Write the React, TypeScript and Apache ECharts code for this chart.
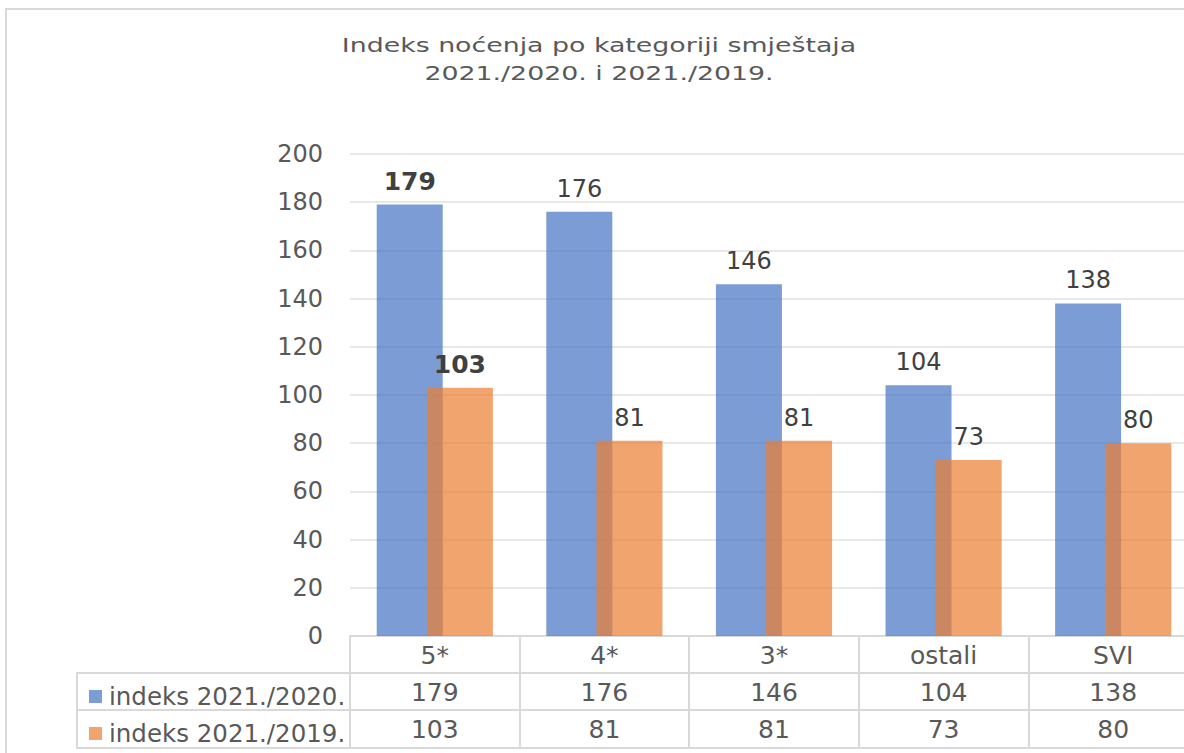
import React, { useEffect, useRef } from "react";
import * as echarts from "echarts";

const categories = ["5*", "4*", "3*", "ostali", "SVI"];
const seriesNames = ["indeks 2021./2020.", "indeks 2021./2019."];
const index2020 = [179, 176, 146, 104, 138];
const index2019 = [103, 81, 81, 73, 80];
const yTicks = { min: 0, max: 200, interval: 20 };
const titleLines = ["Indeks noćenja po kategoriji smještaja", "2021./2020. i 2021./2019."];

const FONT = "DejaVu Sans";
const GRID_LINE = "#d9d9d9";
const TEXT = "#595959";
const LABEL = "#404040";
const BLUE = "rgba(68,114,196,0.7)";
const ORANGE = "rgba(237,125,49,0.7)";

export default function App() {
  const ref = useRef<HTMLDivElement>(null);

  useEffect(() => {
    if (!ref.current) return;
    const chart = echarts.init(ref.current, undefined, { renderer: "svg" });

    const boldFirst = (arr: number[]) =>
      arr.map((v, i) => (i === 0 ? { value: v, label: { fontWeight: "bold", fontSize: 25 } } : v));

    const tableAxis = (data: string[], offset: number, showLabel: boolean) => ({
      type: "category",
      position: "bottom",
      gridIndex: 0,
      data,
      offset,
      axisLine: { show: true, onZero: false, lineStyle: { color: GRID_LINE, width: 2 } },
      axisTick: { show: false },
      axisLabel: {
        show: showLabel,
        interval: 0,
        margin: 7,
        fontSize: 25,
        color: TEXT,
        fontFamily: FONT,
      },
      splitLine: { show: false },
    });

    chart.setOption({
      animation: false,
      textStyle: { fontFamily: FONT },
      graphic: [
        {
          type: "rect",
          z: -10,
          shape: { x: 6, y: 9, width: 1400, height: 1000 },
          style: { fill: "none", stroke: GRID_LINE, lineWidth: 2 },
          silent: true,
        },
        {
          type: "text",
          x: 599,
          y: 59,
          scaleX: 1.34,
          style: {
            text: titleLines.join("\n"),
            textAlign: "center",
            textVerticalAlign: "middle",
            fontSize: 20,
            lineHeight: 28,
            fill: TEXT,
            fontFamily: FONT,
          },
        },
        {
          type: "rect",
          shape: { x: 77, y: 673, width: 273, height: 75 },
          style: { fill: "none", stroke: GRID_LINE, lineWidth: 2 },
          silent: true,
        },
        {
          type: "line",
          shape: { x1: 77, y1: 710, x2: 350, y2: 710 },
          style: { stroke: GRID_LINE, lineWidth: 2 },
          silent: true,
        },
      ],
      legend: {
        data: seriesNames,
        orient: "vertical",
        left: 84,
        top: 679,
        itemWidth: 13,
        itemHeight: 13,
        itemGap: 12,
        icon: "rect",
        textStyle: { fontSize: 24.5, color: TEXT, fontFamily: FONT, lineHeight: 25, padding: [0, 0, 0, 2] },
        selectedMode: false,
      },
      grid: {
        left: 350,
        top: 154,
        width: 848,
        height: 482,
        containLabel: false,
        outerBoundsMode: "none",
      },
      xAxis: [
        {
          type: "category",
          position: "bottom",
          data: categories,
          offset: 0,
          axisLine: { show: true, onZero: false, lineStyle: { color: GRID_LINE, width: 2 } },
          axisTick: {
            show: true,
            interval: 0,
            length: 112,
            inside: false,
            lineStyle: { color: GRID_LINE, width: 2 },
          },
          axisLabel: { interval: 0, margin: 7, fontSize: 25, color: TEXT, fontFamily: FONT },
          splitLine: { show: false },
        },
        tableAxis(index2020.map(String), 37, true),
        tableAxis(index2019.map(String), 74, true),
        tableAxis(categories.map(() => ""), 112, false),
      ],
      yAxis: {
        type: "value",
        min: yTicks.min,
        max: yTicks.max,
        interval: yTicks.interval,
        axisLine: { show: false },
        axisTick: { show: false },
        axisLabel: { margin: 27, fontSize: 24, color: TEXT, fontFamily: FONT },
        splitLine: { lineStyle: { color: "#e8e8e8", width: 2 } },
      },
      series: [
        {
          name: seriesNames[0],
          type: "bar",
          xAxisIndex: 0,
          data: boldFirst(index2020),
          barWidth: 66,
          barGap: "-24%",
          itemStyle: { color: BLUE },
          label: { show: true, position: "top", distance: 11, fontSize: 24, color: LABEL, fontFamily: FONT },
        },
        {
          name: seriesNames[1],
          type: "bar",
          xAxisIndex: 0,
          data: boldFirst(index2019),
          barWidth: 66,
          barGap: "-24%",
          itemStyle: { color: ORANGE },
          label: { show: true, position: "top", distance: 11, fontSize: 24, color: LABEL, fontFamily: FONT },
        },
      ],
    });

    return () => chart.dispose();
  }, []);

  return (
    <div
      ref={ref}
      style={{ position: "fixed", left: 0, top: 0, width: 1184, height: 753, background: "#fff" }}
    />
  );
}
